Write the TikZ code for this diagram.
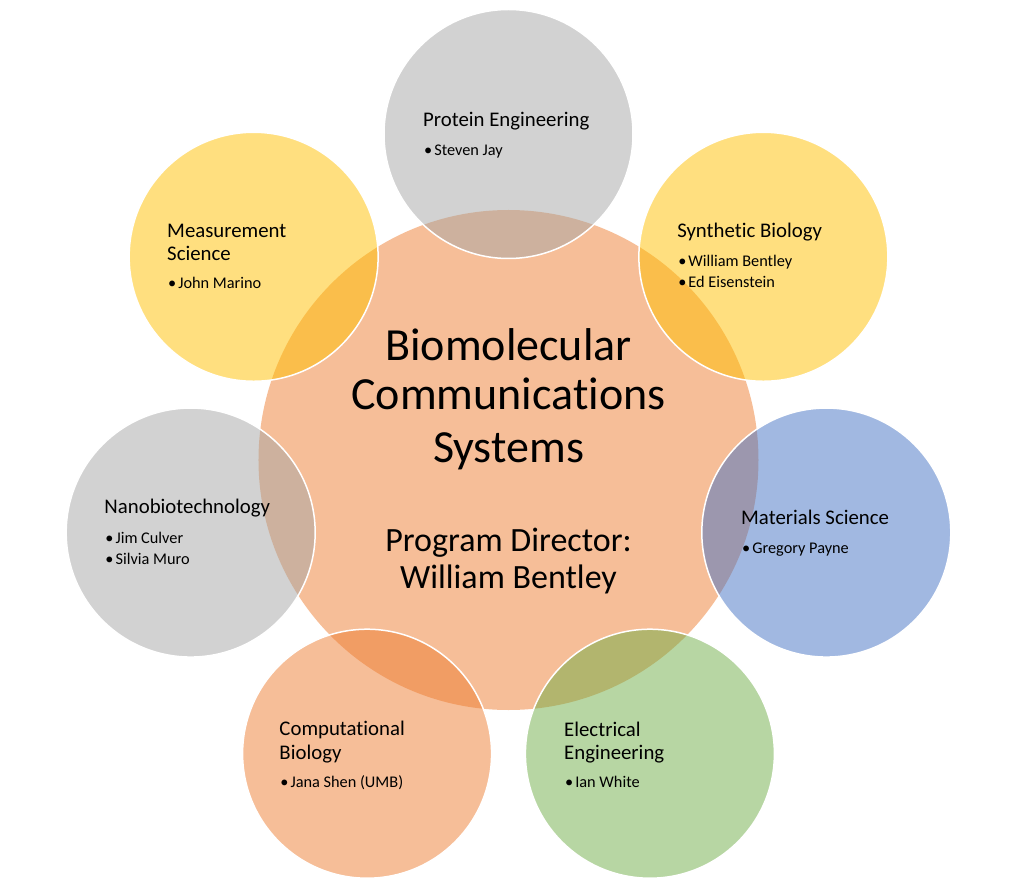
\documentclass[tikz,border=0pt]{standalone}
\usepackage{fontspec}
\setmainfont{Carlito}[Ligatures=NoCommon]
\definecolor{accorange}{HTML}{ED7D31}
\definecolor{accgray}{HTML}{A5A5A5}
\definecolor{accgold}{HTML}{FFC000}
\definecolor{accblue}{HTML}{4472C4}
\definecolor{accgreen}{HTML}{70AD47}
\newcommand{\pt}{\textbullet\hspace{2pt}}

\begin{document}
\begin{tikzpicture}[x=1pt,y=1pt,
    bubble/.style={circle, minimum size=249pt, inner sep=0pt,
      fill opacity=0.5, draw=white, line width=1.5pt},
    title/.style={anchor=base, inner sep=0pt, font=\fontsize{46}{50}\selectfont},
    director/.style={anchor=base, inner sep=0pt, font=\fontsize{34}{37}\selectfont},
    head/.style={anchor=base west, inner sep=0pt, font=\fontsize{20.8}{23}\selectfont},
    item/.style={anchor=base west, inner sep=0pt, font=\fontsize{16.3}{22}\selectfont}]
    \useasboundingbox (-508.5,-429) rectangle (508.5,460);
    % the big circle in the middle
    \node[bubble, draw=none, fill=accorange, minimum size=500pt] (core) at (0,0) {};
    % the seven fields round it
    \foreach \name/\ang/\col in {prot/90/accgray, synb/38.57/accgold,
        matl/-12.86/accblue, elec/-64.29/accgreen, comp/-115.71/accorange,
        nano/-167.14/accgray, meas/141.43/accgold}
      \node[bubble, fill=\col] (\name) at (\ang:326) {};
    % middle text
    \node[title] (core-1) at (0,99) {Biomolecular};
    \node[title] (core-2) at (0,50) {Communications};
    \node[title] (core-3) at (0,-2) {Systems};
    \node[director] (core-4) at (0,-91.7) {Program Director:};
    \node[director] (core-5) at (0,-128.3) {William Bentley};
    % fields and people
    \node[head] (prot-h) at ([shift={(-85.5,7.3)}]prot.center) {Protein Engineering};
    \node[item] (prot-1) at ([shift={(-84.5,-21.2)}]prot.center) {\pt Steven Jay};
    \node[head] (synb-h) at ([shift={(-86.3,19.4)}]synb.center) {Synthetic Biology};
    \node[item] (synb-1) at ([shift={(-85.3,-9.8)}]synb.center) {\pt William Bentley};
    \node[item] (synb-2) at ([shift={(-85.3,-30.8)}]synb.center) {\pt Ed Eisenstein};
    \node[head] (matl-h) at ([shift={(-85.3,7.6)}]matl.center) {Materials Science};
    \node[item] (matl-1) at ([shift={(-84.3,-20.9)}]matl.center) {\pt Gregory Payne};
    \node[head] (elec-h) at ([shift={(-85.9,17.7)}]elec.center) {Electrical};
    \node[head] (elec-h2) at ([shift={(-85.9,-5.3)}]elec.center) {Engineering};
    \node[item] (elec-1) at ([shift={(-84.9,-34)}]elec.center) {\pt Ian White};
    \node[head] (comp-h) at ([shift={(-87.8,18)}]comp.center) {Computational};
    \node[head] (comp-h2) at ([shift={(-87.8,-5.3)}]comp.center) {Biology};
    \node[item] (comp-1) at ([shift={(-86.8,-34)}]comp.center) {\pt Jana Shen (UMB)};
    \node[head] (nano-h) at ([shift={(-86.4,19.3)}]nano.center) {Nanobiotechnology};
    \node[item] (nano-1) at ([shift={(-85.4,-11.4)}]nano.center) {\pt Jim Culver};
    \node[item] (nano-2) at ([shift={(-85.4,-32.1)}]nano.center) {\pt Silvia Muro};
    \node[head] (meas-h) at ([shift={(-86.6,19.7)}]meas.center) {Measurement};
    \node[head] (meas-h2) at ([shift={(-86.6,-3.6)}]meas.center) {Science};
    \node[item] (meas-1) at ([shift={(-85.6,-31.8)}]meas.center) {\pt John Marino};
\end{tikzpicture}
\end{document}
